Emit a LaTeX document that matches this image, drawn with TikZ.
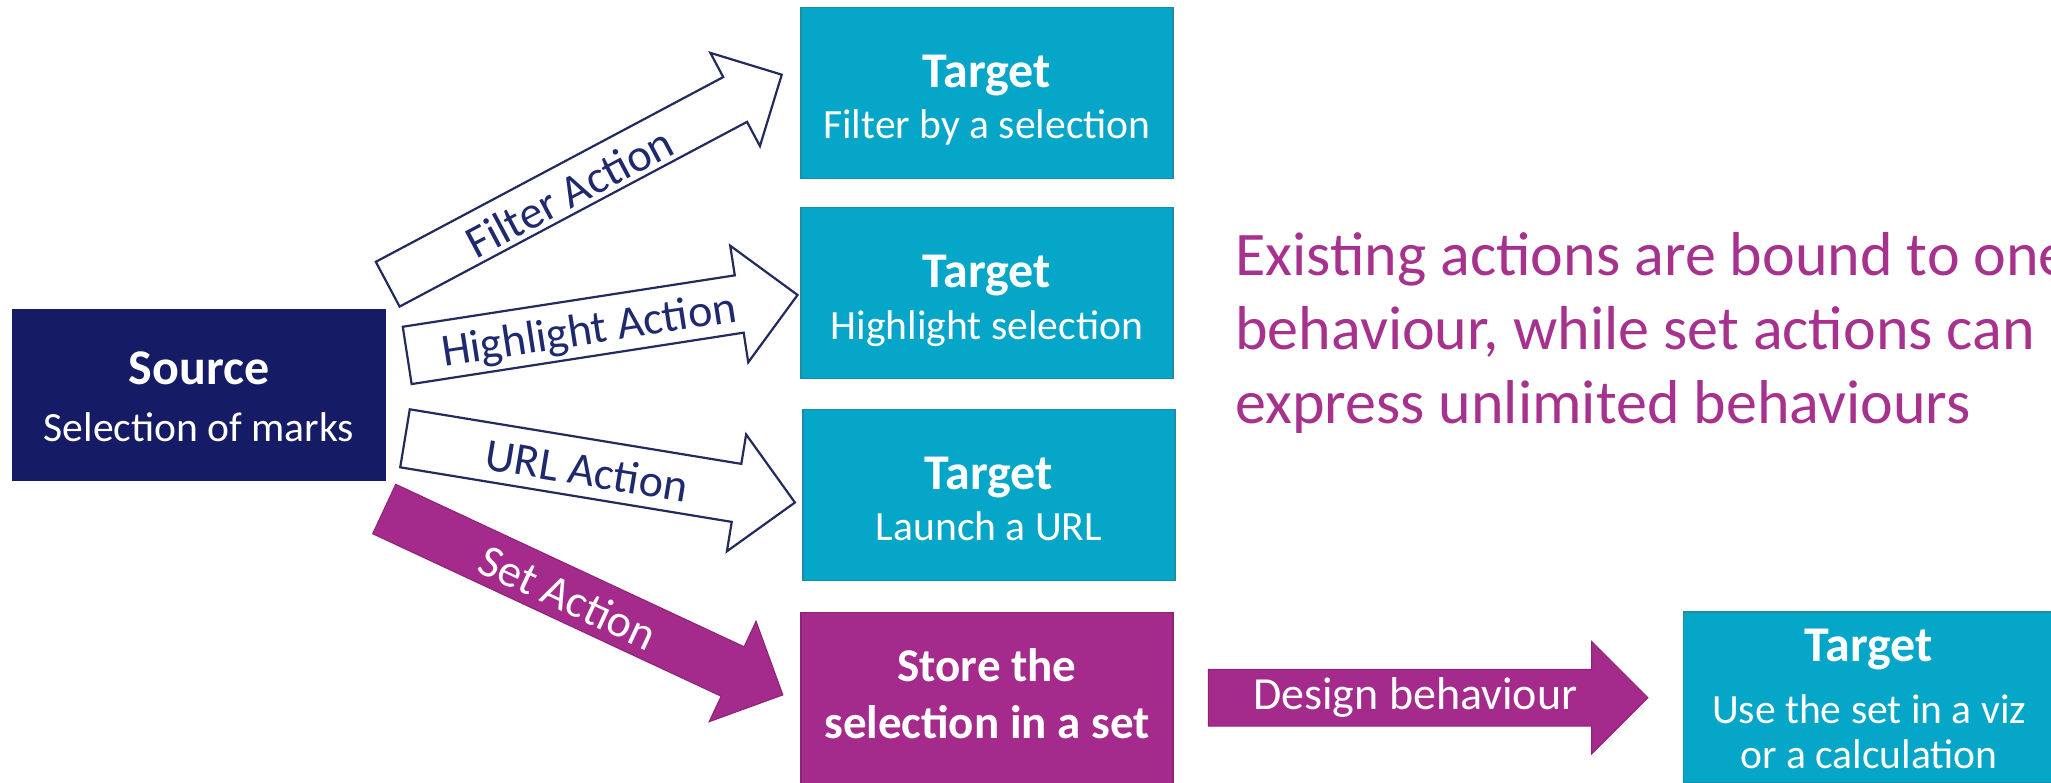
\documentclass[tikz,border=0pt]{standalone}
\usepackage{fontspec}
\setmainfont{Carlito}
\definecolor{navybox}{HTML}{151C65}
\definecolor{tealc}{HTML}{05A6C7}
\definecolor{tealedge}{HTML}{1A8EA5}
\definecolor{purp}{HTML}{A42B8B}
\definecolor{purpedge}{HTML}{8E2277}
\definecolor{purptext}{HTML}{A6328E}
\definecolor{outl}{HTML}{232B5E}
\definecolor{navytext}{HTML}{1F2A6E}
\begin{document}
\begin{tikzpicture}[x=0.5pt,y=-0.5pt,
  box/.style={rectangle, inner sep=0pt, minimum width=186pt, minimum height=85.5pt},
  tealbox/.style={box, fill=tealc, draw=tealedge, line width=0.6pt},
  navyboxst/.style={box, fill=navybox, draw=navybox, line width=0.6pt},
  purpbox/.style={box, fill=purp, draw=purpedge, line width=0.6pt},
  ttl/.style={anchor=base, text=white, inner sep=0pt, font=\fontsize{25}{30}\selectfont\bfseries},
  storettl/.style={anchor=base, text=white, inner sep=0pt, font=\fontsize{23.5}{28}\selectfont\bfseries},
  sub/.style={anchor=base, text=white, inner sep=0pt, font=\fontsize{20.8}{25}\selectfont},
  outarrow/.style={fill=white, draw=outl, line width=1.1pt, line join=miter},
  fillarrow/.style={fill=purp, draw=purpedge, line width=0.5pt, line join=miter},
  lbl/.style={text=navytext, inner sep=0pt, font=\fontsize{23}{27}\selectfont},
  wlbl/.style={text=white, inner sep=0pt, font=\fontsize{23}{27}\selectfont},
  para/.style={anchor=base west, text=purptext, inner sep=0pt, font=\fontsize{31}{37}\selectfont}]
\useasboundingbox (0,0) rectangle (2051,782);
\clip (0,0) rectangle (2051,782);

% Source
\node[navyboxst] (src) at (199,395.3) {};
\node[ttl] (srcT) at (199,384) {Source};
\node[sub] (srcS) at (199,441) {Selection of marks};

% Targets
\node[tealbox] (t1) at (987,92.7) {};
\node[ttl] (t1T) at (987,87) {Target};
\node[sub] (t1S) at (987,138.6) {Filter by a selection};

\node[tealbox] (t2) at (987,293) {};
\node[ttl] (t2T) at (987,287) {Target};
\node[sub] (t2S) at (987,339) {Highlight selection};

\node[tealbox] (t3) at (989,495) {};
\node[ttl] (t3T) at (989,489) {Target};
\node[sub] (t3S) at (989,540) {Launch a URL};

\node[purpbox] (store) at (987,698) {};
\node[storettl] (storeA) at (987,681) {Store the};
\node[storettl] (storeB) at (987,738) {selection in a set};

\node[tealbox] (t4) at (1869.5,697.5) {};
\node[ttl] (t4T) at (1869,661.7) {Target};
\node[sub] (t4S) at (1869,723.3) {Use the set in a viz};
\node[sub] (t4C) at (1869,768.3) {or a calculation};

% Filter arrow
\begin{scope}[shift={(387.7,284.2)},rotate=28]
  \draw[outarrow] (0,-25.35) -- (393.5,-25.35) -- (393.5,-52.8) -- (446.3,0) -- (393.5,52.8) -- (393.5,25.35) -- (0,25.35) -- cycle;
  \node[lbl,rotate=28] (lfilter) at (203.6,4) {Filter Action};
\end{scope}

% Highlight arrow
\begin{scope}[shift={(407.2,355.4)},rotate=8.8]
  \draw[outarrow] (0,-29) -- (336,-29) -- (336,-59) -- (395,0) -- (336,59) -- (336,29) -- (0,29) -- cycle;
  \node[lbl,rotate=8.8] (lhigh) at (183.5,5) {Highlight Action};
\end{scope}

% URL arrow
\begin{scope}[shift={(405,438.3)},rotate=-9.35]
  \draw[outarrow] (0,-29.4) -- (336,-29.4) -- (336,-59.2) -- (395.2,0) -- (336,59.2) -- (336,29.4) -- (0,29.4) -- cycle;
  \node[lbl,rotate=-9.35] (lurl) at (184.5,2) {URL Action};
\end{scope}

% Set arrow
\begin{scope}[shift={(384.2,509)},rotate=-25]
  \draw[fillarrow] (0,-27.3) -- (384.4,-27.3) -- (384.4,-55.5) -- (439.9,0) -- (384.4,55.5) -- (384.4,27.3) -- (0,27.3) -- cycle;
  \node[wlbl,rotate=-25] (lset) at (204,2) {Set Action};
\end{scope}

% Design behaviour arrow
\begin{scope}[shift={(1208.3,697.7)}]
  \draw[fillarrow] (0,-28.35) -- (383.4,-28.35) -- (383.4,-56.2) -- (439.6,0) -- (383.4,56.2) -- (383.4,28.35) -- (0,28.35) -- cycle;
  \node[wlbl] (ldesign) at (207,0) {Design behaviour};
\end{scope}

% Statement
\node[para] (p1) at (1235,275.7) {Existing actions are bound to one};
\node[para] (p2) at (1235,349.5) {behaviour, while set actions can};
\node[para] (p3) at (1235,423.3) {express unlimited behaviours};
\end{tikzpicture}
\end{document}
